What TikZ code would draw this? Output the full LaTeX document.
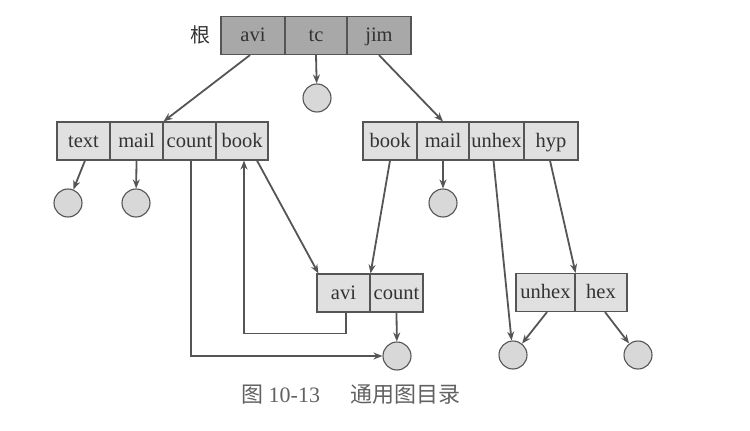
\documentclass[tikz,border=0pt]{standalone}
\usepackage{fontspec}
\setmainfont{Liberation Serif}
\newfontfamily\cjk{Noto Sans CJK SC}
\usetikzlibrary{arrows.meta,calc}
\definecolor{linec}{HTML}{555555}
\definecolor{rootfill}{HTML}{A8A8A8}
\definecolor{cellfill}{HTML}{E0E0E0}
\definecolor{circfill}{HTML}{D8D8D8}
\definecolor{txtc}{HTML}{333333}
\tikzset{
  x=1pt,y=-1pt,
  cellbox/.style={draw=linec,line width=1.1pt,fill=cellfill,minimum height=38pt,inner sep=0pt,text=txtc,
    text height=12pt,text depth=0pt,font=\fontsize{20.5}{20.5}\selectfont},
  rootbox/.style={cellbox,fill=rootfill},
  leaf/.style={circle,draw=linec,line width=1.1pt,fill=circfill,minimum size=28pt,inner sep=0pt},
  link/.style={draw=linec,line width=1.8pt,-{Stealth[length=9pt,width=7pt]}},
}
\begin{document}
\begin{tikzpicture}
\useasboundingbox (0,0) rectangle (750,431);
% root
\node[rootbox,minimum width=64pt] (ravi) at (253,35.5) {avi};
\node[rootbox,minimum width=62pt] (rtc) at (316,35.5) {tc};
\node[rootbox,minimum width=64pt] (rjim) at (379,35.5) {jim};
\node[text=txtc,font=\cjk\fontsize{20}{20}\selectfont] (rootlbl) at (200,35) {根};
% left row
\node[cellbox,minimum width=53pt] (ltext) at (83.5,141) {text};
\node[cellbox,minimum width=53pt] (lmail) at (136.5,141) {mail};
\node[cellbox,minimum width=53pt] (lcount) at (189.5,141) {count};
\node[cellbox,minimum width=52pt] (lbook) at (242,141) {book};
% right row
\node[cellbox,minimum width=54pt] (rbook) at (390,141) {book};
\node[cellbox,minimum width=52pt] (rmail) at (443,141) {mail};
\node[cellbox,minimum width=55pt] (runhex) at (496.5,141) {unhex};
\node[cellbox,minimum width=54pt] (rhyp) at (551,141) {hyp};
% middle row
\node[cellbox,minimum width=53pt] (mavi) at (343.5,293) {avi};
\node[cellbox,minimum width=53pt] (mcount) at (396.5,293) {count};
% bottom right row
\node[cellbox,minimum width=59pt] (bunhex) at (545.5,292.5) {unhex};
\node[cellbox,minimum width=52pt] (bhex) at (601,292.5) {hex};
% leaves
\node[leaf] (ctc) at (317,98) {};
\node[leaf] (ctext) at (68,203) {};
\node[leaf] (cmail) at (136,203) {};
\node[leaf] (crmail) at (443,203) {};
\node[leaf] (cmid) at (397,356) {};
\node[leaf] (cbl) at (513,355) {};
\node[leaf] (cbr) at (638,355) {};
% caption
\node[text=black!62,font=\fontsize{22}{22}\selectfont] (cap) at (351,395) {{\cjk 图} 10-13\hspace{1.4em}{\cjk 通用图目录}};
% links
\draw[link] ([xshift=-3pt]ravi.south) -- (lmail.north east);
\draw[link] (rtc.south) -- (ctc);
\draw[link] (rjim.south) -- (rmail.north);
\draw[link] ([xshift=1.5pt]ltext.south) -- (ctext);
\draw[link] (lmail.south) -- (cmail);
\draw[link] ([xshift=1.5pt]lcount.south) |- (cmid.west);
\draw[link] ([xshift=2.5pt]mavi.south) -- ([xshift=2.5pt,yshift=-21pt]mavi.south) -| ([xshift=2pt]lbook.south);
\draw[link] ([xshift=15pt]lbook.south) -- ([xshift=2pt]mavi.north west);
\draw[link] (rbook.south) -- (mavi.north east);
\draw[link] (rmail.south) -- (crmail);
\draw[link] (mcount.south) -- (cmid);
\draw[link] ([xshift=-3pt]runhex.south) -- (cbl);
\draw[link] ([xshift=-1pt]rhyp.south) -- (bunhex.north east);
\draw[link] ([xshift=1.5pt]bunhex.south) -- (cbl);
\draw[link] ([xshift=4pt]bhex.south) -- (cbr);
\end{tikzpicture}
\end{document}
